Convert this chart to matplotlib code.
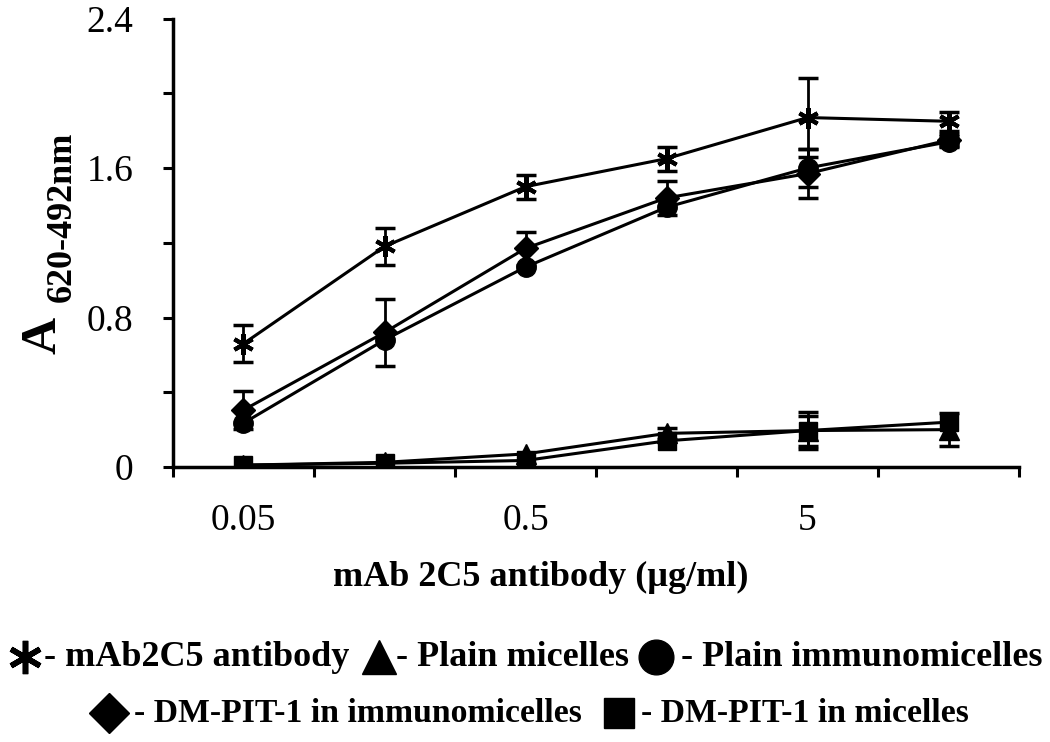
import numpy as np
import matplotlib
matplotlib.use("Agg")
import matplotlib.pyplot as plt

# ---------------- data ----------------
x_labels = ["0.05", "", "0.5", "", "5", ""]

antibody = [0.66, 1.18, 1.50, 1.65, 1.87, 1.85]
antibody_err = [0.10, 0.10, 0.065, 0.065, 0.21, 0.05]

plain_micelles = [0.01, 0.025, 0.07, 0.18, 0.195, 0.20]
plain_micelles_err = [0.0, 0.0, 0.0, 0.03, 0.08, 0.09]

plain_immuno = [0.235, 0.68, 1.07, 1.39, 1.60, 1.74]
plain_immuno_err = [0.0, 0.0, 0.0, 0.0, 0.10, 0.03]

dm_immuno = [0.305, 0.72, 1.17, 1.44, 1.57, 1.75]
dm_immuno_err = [0.10, 0.18, 0.09, 0.09, 0.13, 0.03]

dm_micelles = [0.01, 0.02, 0.035, 0.14, 0.195, 0.24]
dm_micelles_err = [0.0, 0.0, 0.0, 0.0, 0.10, 0.0]

legend_labels = ["- mAb2C5 antibody", "- Plain micelles", "- Plain immunomicelles",
                 "- DM-PIT-1 in immunomicelles", "- DM-PIT-1 in micelles"]

# ---------------- style ----------------
SERIF = ["Liberation Serif", "DejaVu Serif"]
plt.rcParams["font.family"] = SERIF

W, H = 1050, 742
fig = plt.figure(figsize=(W / 100, H / 100), dpi=100)

L, R, T, B = 173, 1019, 18.5, 467
ax = fig.add_axes([L / W, 1 - B / H, (R - L) / W, (B - T) / H])

x = np.arange(len(x_labels))
asterisk = (6, 2, 0)
series = [
    (antibody, antibody_err, asterisk, 15, 3.0),
    (plain_micelles, plain_micelles_err, "^", 15, 1.0),
    (plain_immuno, plain_immuno_err, "o", 14, 1.0),
    (dm_immuno, dm_immuno_err, "D", 12, 1.0),
    (dm_micelles, dm_micelles_err, "s", 13, 1.0),
]

for vals, errs, mk, ms, mew in series:
    vals = np.asarray(vals, float)
    errs = np.asarray(errs, float)
    show = errs > 0
    ax.errorbar(x[show], vals[show], yerr=errs[show], fmt="none", ecolor="black",
                elinewidth=2.0, capsize=7, capthick=2.5, zorder=2)
    ax.plot(x, vals, color="black", lw=2.2, marker=mk, ms=ms,
            mfc="black", mec="black", mew=mew, zorder=3)

ax.set_xlim(-0.5, len(x_labels) - 0.5)
ax.set_ylim(0, 2.4)

for s in ["top", "right"]:
    ax.spines[s].set_visible(False)
for s in ["left", "bottom"]:
    ax.spines[s].set_linewidth(2.5)
    ax.spines[s].set_color("black")

ax.set_yticks([0, 0.8, 1.6, 2.4])
ax.set_yticklabels(["0", "0.8", "1.6", "2.4"])
ax.set_yticks([0.4, 1.2, 2.0], minor=True)
ax.tick_params(axis="y", which="both", direction="out", length=7.5, width=2.2,
               labelsize=27, pad=21)

# x ticks: marks between categories, labels at category centers
ax.set_xticks(np.arange(len(x_labels) + 1) - 0.5)
ax.set_xticklabels([])
ax.set_xticks(x, minor=True)
ax.set_xticklabels(x_labels, minor=True)
ax.tick_params(axis="x", which="major", direction="out", length=7.5, width=2.2)
ax.tick_params(axis="x", which="minor", length=0, labelsize=27, pad=26)

# axis titles
fig.text(541 / W, 1 - 577 / H, "mAb 2C5 antibody (\u00b5g/ml)", ha="center", va="center",
         fontsize=26, fontweight="bold")
fig.text(55 / W, 1 - 335 / H, "A", rotation=90, rotation_mode="anchor",
         ha="center", va="baseline", fontsize=37, fontweight="bold")
fig.text(71 / W, 1 - 217 / H, "620-492nm", rotation=90, rotation_mode="anchor",
         ha="center", va="baseline", fontsize=26, fontweight="bold")

# legend (manual, two centered rows)
lax = fig.add_axes([0, 0, 1, 1])
lax.set_xlim(0, W)
lax.set_ylim(H, 0)
lax.axis("off")
leg_items = [
    (25, 657, asterisk, 24, 4.0, 44, legend_labels[0], 26),
    (379, 657, "^", 24, 1.0, 396, legend_labels[1], 26),
    (656, 657, "o", 25, 1.0, 681, legend_labels[2], 26),
    (109, 713, "D", 20, 1.0, 134, legend_labels[3], 24.3),
    (619, 713, "s", 21, 1.0, 641, legend_labels[4], 24.3),
]
for mx, my, mk, ms, mew, tx, lab, fs in leg_items:
    lax.plot([mx], [my], marker=mk, ms=ms, mfc="black", mec="black", mew=mew,
             ls="none")
    lax.text(tx, my, lab, ha="left", va="center", fontsize=fs, fontweight="bold")

fig.savefig("out.png", dpi=100)
